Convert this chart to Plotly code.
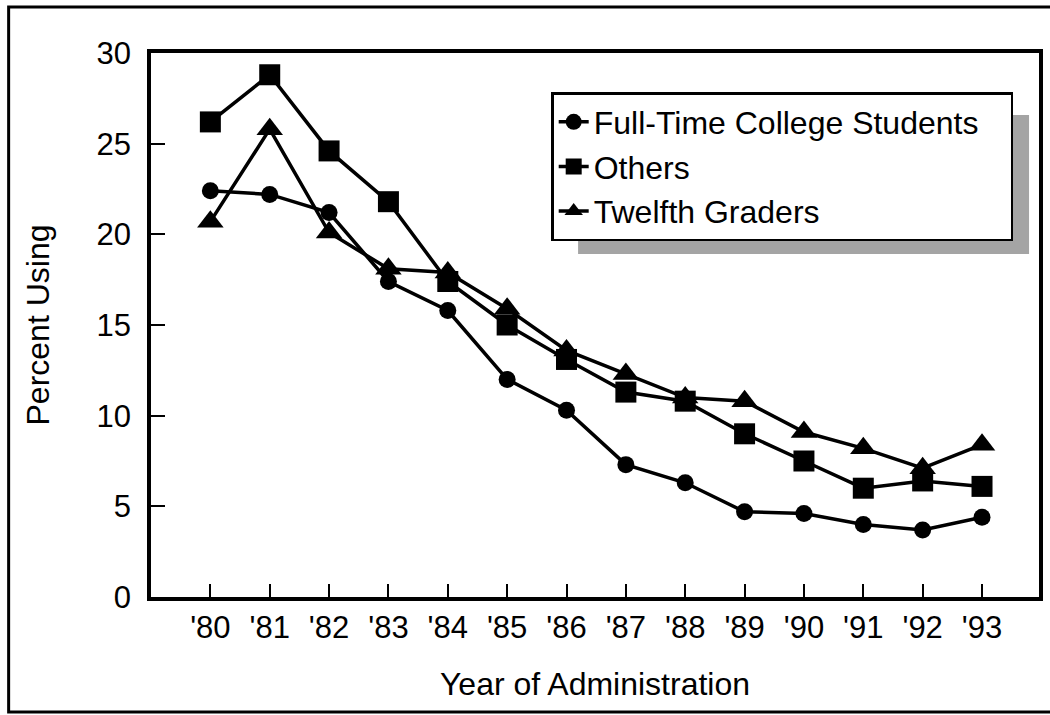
import plotly.graph_objects as go

# Survey years and series values (percent using)
years = ["'80", "'81", "'82", "'83", "'84", "'85", "'86", "'87", "'88", "'89", "'90", "'91", "'92", "'93"]
college = [22.4, 22.2, 21.2, 17.4, 15.8, 12.0, 10.3, 7.3, 6.3, 4.7, 4.6, 4.0, 3.7, 4.4]
others = [26.2, 28.8, 24.6, 21.8, 17.4, 15.0, 13.1, 11.3, 10.8, 9.0, 7.5, 6.0, 6.4, 6.1]
twelfth = [20.7, 25.8, 20.1, 18.1, 17.9, 15.9, 13.6, 12.3, 11.0, 10.8, 9.1, 8.2, 7.1, 8.4]
y_ticks = [0, 5, 10, 15, 20, 25, 30]

W, H = 1050, 715
L, R, T, B = 151, 7, 53, 118
PW, PH = W - L - R, H - T - B

FONT = "Liberation Sans, Arial, Helvetica, sans-serif"
NBSP = "\u00a0"
idx = list(range(len(years)))


def px(x):
    return (x - L) / PW


def py(y):
    return (H - B - y) / PH


fig = go.Figure()
series = [
    ("Full-Time College Students" + NBSP * 3, college, "circle", 17),
    ("Others", others, "square", 21),
    ("Twelfth Graders", twelfth, "triangle-up", 23),
]
for name, vals, sym, size in series:
    fig.add_trace(go.Scatter(
        x=idx, y=vals, name=name, mode="lines+markers",
        line=dict(color="black", width=3.5),
        marker=dict(symbol=sym, size=size, color="black", line=dict(width=0)),
    ))

shapes = [
    # outer frame
    dict(type="rect", xref="paper", yref="paper", x0=px(8), x1=px(1060), y0=py(712), y1=py(7),
         line=dict(color="black", width=3), fillcolor="rgba(0,0,0,0)", layer="below"),
    # legend drop shadow
    dict(type="rect", xref="paper", yref="paper", x0=px(580), x1=px(1033), y0=py(254), y1=py(115),
         line=dict(width=0), fillcolor="#a4a4a4", layer="above"),
]

fig.update_layout(
    width=W, height=H,
    margin=dict(l=L, r=R, t=T, b=B, pad=0),
    paper_bgcolor="white", plot_bgcolor="white",
    font=dict(family=FONT, size=31, color="black"),
    showlegend=True,
    legend=dict(
        x=px(553), y=py(92), xanchor="left", yanchor="top",
        bgcolor="white", bordercolor="black", borderwidth=2.5,
        font=dict(family=FONT, size=32), tracegroupgap=0, itemwidth=30,
    ),
    shapes=shapes,
    xaxis=dict(
        range=[-1, 13.96], tickmode="array", tickvals=idx, ticktext=years,
        ticks="inside", ticklen=13, tickwidth=2, tickcolor="black",
        showline=True, linecolor="black", linewidth=3.5, mirror=True,
        showgrid=False, zeroline=False,
        title=dict(text="Year of Administration", standoff=30, font=dict(family=FONT, size=32)),
    ),
    yaxis=dict(
        range=[0, 30], tickmode="array", tickvals=y_ticks,
        ticks="inside", ticklen=14, tickwidth=2, tickcolor="black",
        showline=True, linecolor="black", linewidth=3.5, mirror=True,
        showgrid=False, zeroline=False, ticklabelstandoff=10,
        title=dict(text="Percent Using", standoff=38, font=dict(family=FONT, size=32)),
    ),
)

fig.write_html("out.html")
